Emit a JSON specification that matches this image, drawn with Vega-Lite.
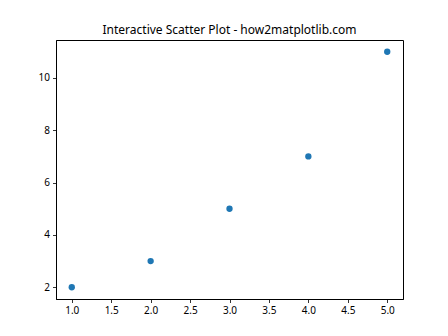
{
  "$schema": "https://vega.github.io/schema/vega-lite/v6.json",
  "width": 347,
  "height": 259,
  "autosize": {"type": "none"},
  "padding": {"left": 56, "top": 40, "right": 45, "bottom": 37},
  "background": "white",
  "title": {"text": "Interactive Scatter Plot - how2matplotlib.com", "font": "Noto Sans", "fontSize": 12, "fontWeight": "normal", "color": "black", "offset": 3},
  "config": {
    "view": {"stroke": "black", "strokeWidth": 1},
    "axis": {"grid": false, "domainColor": "black", "tickColor": "black", "tickSize": 3.5, "labelFont": "Noto Sans", "labelFontSize": 10, "labelColor": "black", "labelPadding": 3, "title": null, "domainWidth": 1, "tickWidth": 0.8}
  },
  "data": {"values": [
    {"x": 1, "y": 2}, {"x": 2, "y": 3}, {"x": 3, "y": 5}, {"x": 4, "y": 7}, {"x": 5, "y": 11}
  ]},
  "mark": {"type": "circle", "color": "#1f77b4", "opacity": 1, "size": 40},
  "encoding": {
    "x": {"field": "x", "type": "quantitative", "scale": {"domain": [0.8, 5.2], "nice": false, "zero": false}, "axis": {"values": [1, 1.5, 2, 2.5, 3, 3.5, 4, 4.5, 5], "format": ".1f"}},
    "y": {"field": "y", "type": "quantitative", "scale": {"domain": [1.55, 11.45], "nice": false, "zero": false}, "axis": {"values": [2, 4, 6, 8, 10], "format": "d"}}
  }
}
